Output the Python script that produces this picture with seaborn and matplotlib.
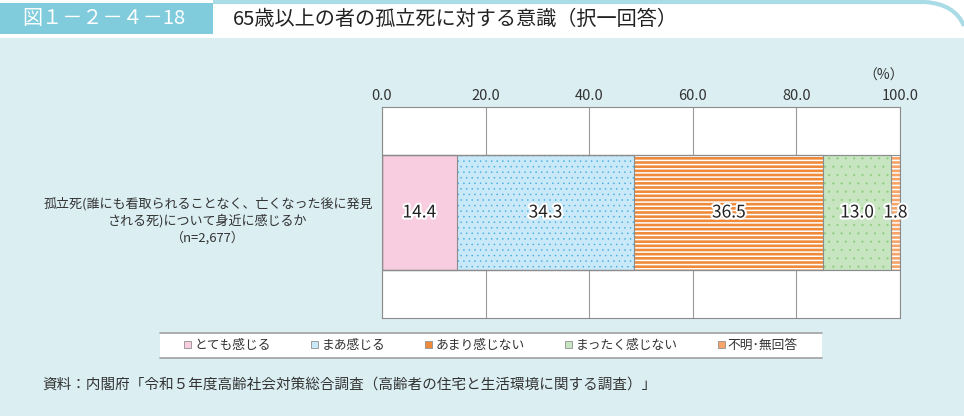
import numpy as np
import matplotlib
matplotlib.use('Agg')
import matplotlib.pyplot as plt
import matplotlib.patheffects as pe
from matplotlib.patches import Rectangle, Patch, PathPatch
from matplotlib.path import Path
import seaborn as sns

# --- data ---
question = ['孤立死(誰にも看取られることなく、亡くなった後に発見\nされる死)について身近に感じるか\n（n=2,677）']
answers = ['とても感じる', 'まあ感じる', 'あまり感じない', 'まったく感じない', '不明･無回答']
values = [14.4, 34.3, 36.5, 13.0, 1.8]
ticks = [0, 20, 40, 60, 80, 100]

# --- styles ---
face_colors = ['#f8cde0', '#c9e8f8', '#ef8a3a', '#c6e5c0', '#f6a468']
hatches = [None, '...', '----', '..', '----']
hatch_colors = [None, '#3aaae0', '#ffffff', '#8fcc7e', '#ffffff']
hatch_widths = [None, 0.3, 1.1, 0.3, 1.1]
bg = '#dbeef2'
edge_gray = '#8c8c8c'

sns.set_style('white')
plt.rcParams['font.family'] = ['Noto Sans CJK JP', 'DejaVu Sans']
plt.rcParams['hatch.linewidth'] = 1.1

fig = plt.figure(figsize=(9.64, 4.16), dpi=100, facecolor=bg)
W, H = 964, 416

# header band
fig.patches.append(Rectangle((0, 1 - 38 / H), 1, 38 / H, transform=fig.transFigure,
                             facecolor='white', edgecolor='none', zorder=0))
fig.patches.append(Rectangle((0, 1 - 34 / H), 213 / W, 31 / H, transform=fig.transFigure,
                             facecolor='#80cbdc', edgecolor='none', zorder=1))
arc = Path([(213 / W, 1 - 2 / H), (925 / W, 1 - 2 / H), (955 / W, 1 - 4 / H), (964 / W, 1 - 26 / H)],
           [Path.MOVETO, Path.LINETO, Path.CURVE3, Path.CURVE3])
fig.patches.append(PathPatch(arc, transform=fig.transFigure, facecolor='none',
                             edgecolor='#a9dce7', linewidth=3, zorder=1))
fig.text(22 / W, 1 - 19 / H, '図１－２－４－18', color='white', fontsize=14.5,
         va='center', ha='left')
fig.text(233 / W, 1 - 19 / H, '65歳以上の者の孤立死に対する意識（択一回答）', color='#222222',
         fontsize=14.5, va='center', ha='left')

# plot area
ax = fig.add_axes([382 / W, 1 - 318 / H, 518 / W, 211 / H])
ax.set_facecolor('white')

cum = np.cumsum(values)
for i in reversed(range(len(values))):
    sns.barplot(x=[cum[i]], y=question, orient='h', color=face_colors[i],
                saturation=1, width=0.545, ax=ax)
    p = ax.patches[-1]
    if hatches[i]:
        p.set_hatch(hatches[i])
        p.set_edgecolor(hatch_colors[i])
        if hasattr(p, 'set_hatch_linewidth'):
            p.set_hatch_linewidth(hatch_widths[i])
    p.set_linewidth(0)

for i in range(len(values)):
    sns.barplot(x=[cum[i]], y=question, orient='h', color=edge_gray, fill=False,
                linewidth=0.8, width=0.545, ax=ax)

left = cum - np.array(values)
for v, l in zip(values, left):
    ax.text(l + v / 2, 0, f'{v:.1f}', ha='center', va='center', fontsize=12.5,
            color='#222222',
            path_effects=[pe.withStroke(linewidth=3, foreground='white')])

ax.set_xlim(0, 100)
ax.set_xticks(ticks)
ax.set_xticklabels([f'{t:.1f}' for t in ticks], fontsize=10.5, color='#333333')
ax.xaxis.tick_top()
ax.tick_params(axis='x', length=0, pad=3)
ax.set_yticks([])
ax.set_xlabel('')
ax.set_ylabel('')
ax.grid(axis='x', color='#9a9a9a', linewidth=0.8)
ax.set_axisbelow(True)
for s in ax.spines.values():
    s.set_color(edge_gray)
    s.set_linewidth(0.8)
ax.text(1.007, 1.15, '（%）', transform=ax.transAxes, ha='right', va='center',
        fontsize=10, color='#333333')

# category label
fig.text(208 / W, 1 - 221 / H, question[0], ha='center', va='center', fontsize=9.4,
         color='#333333', multialignment='center', linespacing=1.3)

# legend
fig.patches.append(Rectangle((160 / W, 1 - 358 / H), 662 / W, 25 / H, transform=fig.transFigure,
                             facecolor='white', edgecolor='none', zorder=0))
for yy in (333, 358):
    fig.add_artist(plt.Line2D([160 / W, 822 / W], [1 - yy / H] * 2, color='#a0a0a0',
                              linewidth=1.2, transform=fig.transFigure))
handles = [Patch(facecolor=c, edgecolor='#909090', linewidth=0.6) for c in face_colors]
fig.legend(handles, answers, loc='center', bbox_to_anchor=(491 / W, 1 - 345.5 / H),
           ncol=5, frameon=False, fontsize=9.2, handlelength=0.55, handleheight=0.55,
           handletextpad=0.25, columnspacing=3.15, labelcolor='#333333')

fig.text(42 / W, 1 - 385 / H,
         '資料：内閣府「令和５年度高齢社会対策総合調査（高齢者の住宅と生活環境に関する調査）」',
         ha='left', va='center', fontsize=10.5, color='#333333')

fig.savefig('out.png', dpi=100, facecolor=bg)
